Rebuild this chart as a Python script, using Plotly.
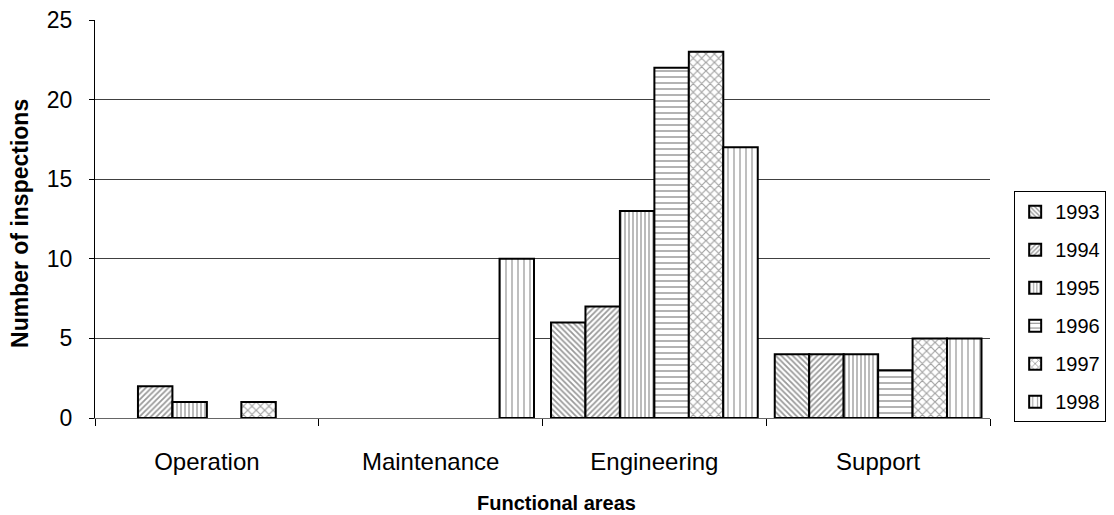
import plotly.graph_objects as go

categories = ["Operation", "Maintenance", "Engineering", "Support"]
years = ["1993", "1994", "1995", "1996", "1997", "1998"]
v1993 = [0, 0, 6, 4]
v1994 = [2, 0, 7, 4]
v1995 = [1, 0, 13, 4]
v1996 = [0, 0, 22, 3]
v1997 = [1, 0, 23, 5]
v1998 = [0, 10, 17, 5]
series = [v1993, v1994, v1995, v1996, v1997, v1998]

patterns = [
    dict(shape="\\", size=4, solidity=0.45, fgcolor="#333333", bgcolor="white"),
    dict(shape="/", size=4, solidity=0.45, fgcolor="#333333", bgcolor="white"),
    dict(shape="|", size=4, solidity=0.4, fgcolor="#555555", bgcolor="white"),
    dict(shape="-", size=6, solidity=0.2, fgcolor="black", bgcolor="white"),
    dict(shape="x", size=6, solidity=0.35, fgcolor="#444444", bgcolor="white"),
    dict(shape="|", size=6, solidity=0.25, fgcolor="#555555", bgcolor="white"),
]

FONT = "Liberation Sans, Arial, sans-serif"

fig = go.Figure()
for y, vals, pat in zip(years, series, patterns):
    fig.add_trace(go.Bar(
        name=y, x=categories, y=[v if v else None for v in vals],
        marker=dict(color="white", pattern=pat, line=dict(color="black", width=2)),
        legendgroup=y,
    ))

# page body has an 8px margin; figure sized so the page fits the window
fig.update_layout(
    width=1106, height=507,
    margin=dict(l=87, r=124, t=12, b=97, autoexpand=False),
    paper_bgcolor="white", plot_bgcolor="white",
    barmode="group", bargap=0.076, bargroupgap=0,
    font=dict(family=FONT, color="black", size=20),
    showlegend=True,
    legend=dict(x=1.027, xanchor="left", y=0.570, yanchor="top",
                bordercolor="black", borderwidth=1, font=dict(size=20),
                tracegroupgap=9, traceorder="grouped"),
    xaxis=dict(
        showline=True, linecolor="#666666", linewidth=1,
        ticks="outside", tickson="boundaries", ticklen=7, tickcolor="black",
        tickfont=dict(size=24), showgrid=False, ticklabelstandoff=22,
    ),
    yaxis=dict(
        range=[0, 25], dtick=5, showline=True, linecolor="black", linewidth=1,
        ticks="outside", ticklen=5, tickcolor="black", tickfont=dict(size=23),
        showgrid=True, gridcolor="#404040", gridwidth=1, zeroline=False,
        ticklabelstandoff=12, ticklabeloverflow="allow",
    ),
    annotations=[
        dict(text="<b>Functional areas</b>", xref="paper", yref="paper",
             x=0.516, y=-0.2136, xanchor="center", yanchor="middle",
             showarrow=False, font=dict(size=20)),
        dict(text="<b>Number of inspections</b>", xref="paper", yref="paper",
             x=-0.0838, y=0.49, xanchor="center", yanchor="middle",
             textangle=-90, showarrow=False, font=dict(size=23)),
    ],
)

fig.write_html(
    "out.html",
    post_script="document.documentElement.style.overflow='hidden';document.body.style.overflow='hidden';",
)
